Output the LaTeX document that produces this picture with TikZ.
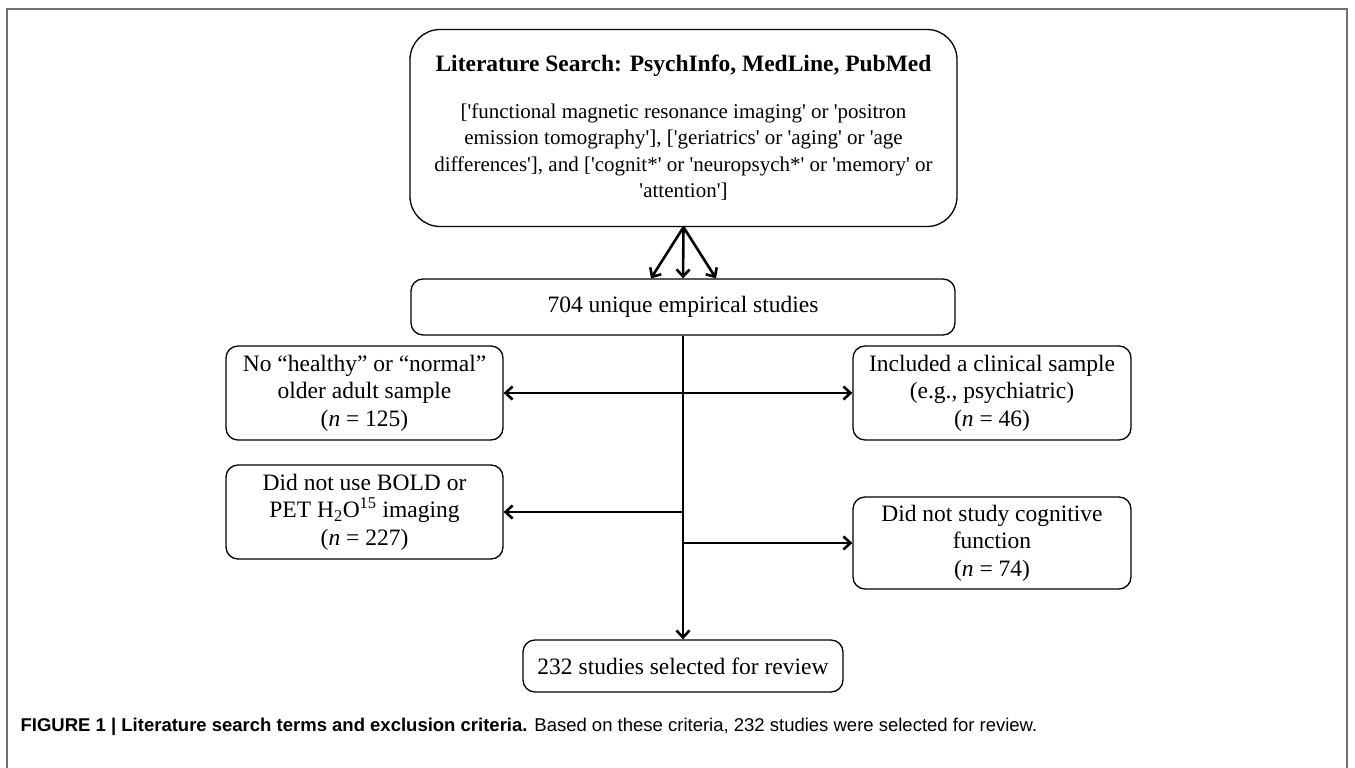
\documentclass[tikz,border=0pt]{standalone}
\usepackage{fontspec}
\setmainfont{Liberation Serif}
\newfontfamily\capfont{Liberation Sans}
\usetikzlibrary{arrows.meta}
\newcommand{\sq}{\textquotesingle}
\begin{document}
\begin{tikzpicture}[x=1pt,y=-1pt,
  line width=1.3pt,>={Straight Barb[length=7pt,width=13pt]},
  main node/.style={draw,rounded corners=12pt,align=center,inner sep=0pt,
    font=\fontsize{23.5}{27.5}\selectfont},
  link/.style={line width=2.6pt,->}]
  \useasboundingbox (0,0) rectangle (1355,768);
  \draw[black!55,line width=1.6pt] (7,768) -- (7,9) -- (1347,9) -- (1347,768);

  \node[main node,rounded corners=30pt,minimum width=547pt,minimum height=197pt,
    font=\fontsize{21}{26.5}\selectfont] (0) at (683.5,128)
    {{\fontsize{23.5}{27.5}\selectfont\bfseries Literature Search: PsychInfo, MedLine, PubMed}\\[20pt]
     [\sq functional magnetic resonance imaging\sq{} or \sq positron\\
     emission tomography\sq], [\sq geriatrics\sq{} or \sq aging\sq{} or \sq age\\
     differences\sq], and [\sq cognit*\sq{} or \sq neuropsych*\sq{} or \sq memory\sq{} or\\
     \sq attention\sq]};
  \node[main node,minimum width=544pt,minimum height=56pt] (1) at (683,307) {704 unique empirical studies};
  \node[main node,minimum width=277pt,minimum height=94pt] (2) at (364.5,393)
    {No ``healthy'' or ``normal''\\older adult sample\\(\textit{n} = 125)};
  \node[main node,minimum width=278pt,minimum height=94pt] (3) at (992,393)
    {Included a clinical sample\\(e.g., psychiatric)\\(\textit{n} = 46)};
  \node[main node,minimum width=277pt,minimum height=94pt] (4) at (364.5,512)
    {Did not use BOLD or\\PET H\textsubscript{2}O\textsuperscript{15} imaging\\(\textit{n} = 227)};
  \node[main node,minimum width=278pt,minimum height=92pt] (5) at (992,543)
    {Did not study cognitive\\function\\(\textit{n} = 74)};
  \node[main node,minimum width=320pt,minimum height=52pt] (6) at (683,666) {232 studies selected for review};
  \node[anchor=west,inner sep=0pt,font=\capfont\fontsize{18.5}{22}\selectfont] (7) at (20,727)
    {\textbf{FIGURE 1 | Literature search terms and exclusion criteria.} Based on these criteria, 232 studies were selected for review.};

  \path[link]
    (0.south) edge ([xshift=-32pt]1.north)
    (0.south) edge (1.north)
    (0.south) edge ([xshift=33pt]1.north)
    (1.south) edge (6.north)
    (2.east) edge[<->] (3.west)
    (4.east -| 1.south) edge (4.east)
    (5.west -| 1.south) edge (5.west);
\end{tikzpicture}
\end{document}
